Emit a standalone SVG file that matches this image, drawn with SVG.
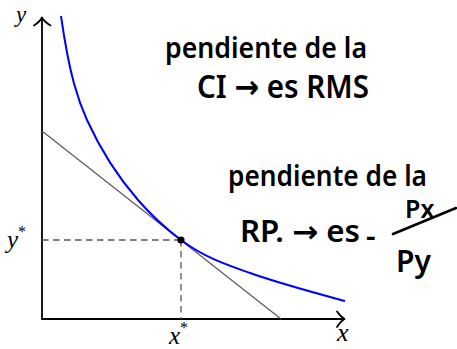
<svg xmlns="http://www.w3.org/2000/svg" width="457" height="349" viewBox="0 0 457 349">
<style>
.axis{stroke:#000;stroke-width:1.8;fill:none;stroke-linecap:round;stroke-linejoin:round}
.dash{stroke:#555;stroke-width:1.3;stroke-dasharray:6.5 4.5;fill:none}
.math{font-family:"Liberation Serif","DejaVu Serif",serif;font-style:italic;fill:#000}
.hand{font-family:"Noto Sans","DejaVu Sans",sans-serif;font-weight:600;fill:#000}
</style>
<rect width="457" height="349" fill="#fff"/>
<g id="axes">
<path class="axis" d="M42,319 V18"/>
<path class="axis" d="M34,25.5 Q40,21.5 42,17.5 Q44,21.5 50.5,25.5"/>
<path class="axis" d="M42,319 H344"/>
<path class="axis" d="M337,311.5 Q341,317 344.5,319 Q341,321 337,327"/>
</g>
<g id="connectors">
<path class="dash" d="M42,240 H181"/>
<path class="dash" d="M181,240 V319"/>
<line id="budget-line" x1="42" y1="131" x2="281" y2="319" stroke="#555" stroke-width="1.1"/>
</g>
<g id="indifference-curve">
<path d="M61,16 C69.67,76.7 78.33,100.9 87,120 C104,157.4 121,180.45 138,200 C152.33,216.5 166.67,229.25 181,240 C204,257.25 227,264.95 250,273 C281.67,284.08 313.33,292.45 345,301" fill="none" stroke="#0000ff" stroke-width="2"/>
</g>
<g id="optimum">
<circle cx="181" cy="240" r="3.6" fill="#000"/>
</g>
<g id="axis-labels">
<text class="math" x="16" y="22" font-size="23">y</text>
<text class="math" x="337" y="341" font-size="26">x</text>
<text class="math" x="7" y="248" font-size="25">y<tspan font-size="16" dy="-11" font-style="normal">*</tspan></text>
<text class="math" x="169" y="344" font-size="25">x<tspan font-size="16" dy="-11" font-style="normal">*</tspan></text>
</g>
<g id="note-ci">
<text class="hand" x="165" y="58" font-size="28" textLength="202" lengthAdjust="spacingAndGlyphs">pendiente de la</text>
<text class="hand" x="197" y="98" font-size="32" textLength="172" lengthAdjust="spacingAndGlyphs">CI → es RMS</text>
</g>
<g id="note-rp">
<text class="hand" x="228" y="186" font-size="28" textLength="199" lengthAdjust="spacingAndGlyphs">pendiente de la</text>
<text class="hand" x="240" y="242" font-size="30" textLength="120" lengthAdjust="spacingAndGlyphs">RP. → es</text>
<text class="hand" x="366" y="247" font-size="30">-</text>
<text class="hand" x="405" y="218" font-size="25">Px</text>
<line x1="393" y1="234" x2="456" y2="208" stroke="#000" stroke-width="2.6" stroke-linecap="round"/>
<text class="hand" x="396" y="272" font-size="30">Py</text>
</g>
</svg>
